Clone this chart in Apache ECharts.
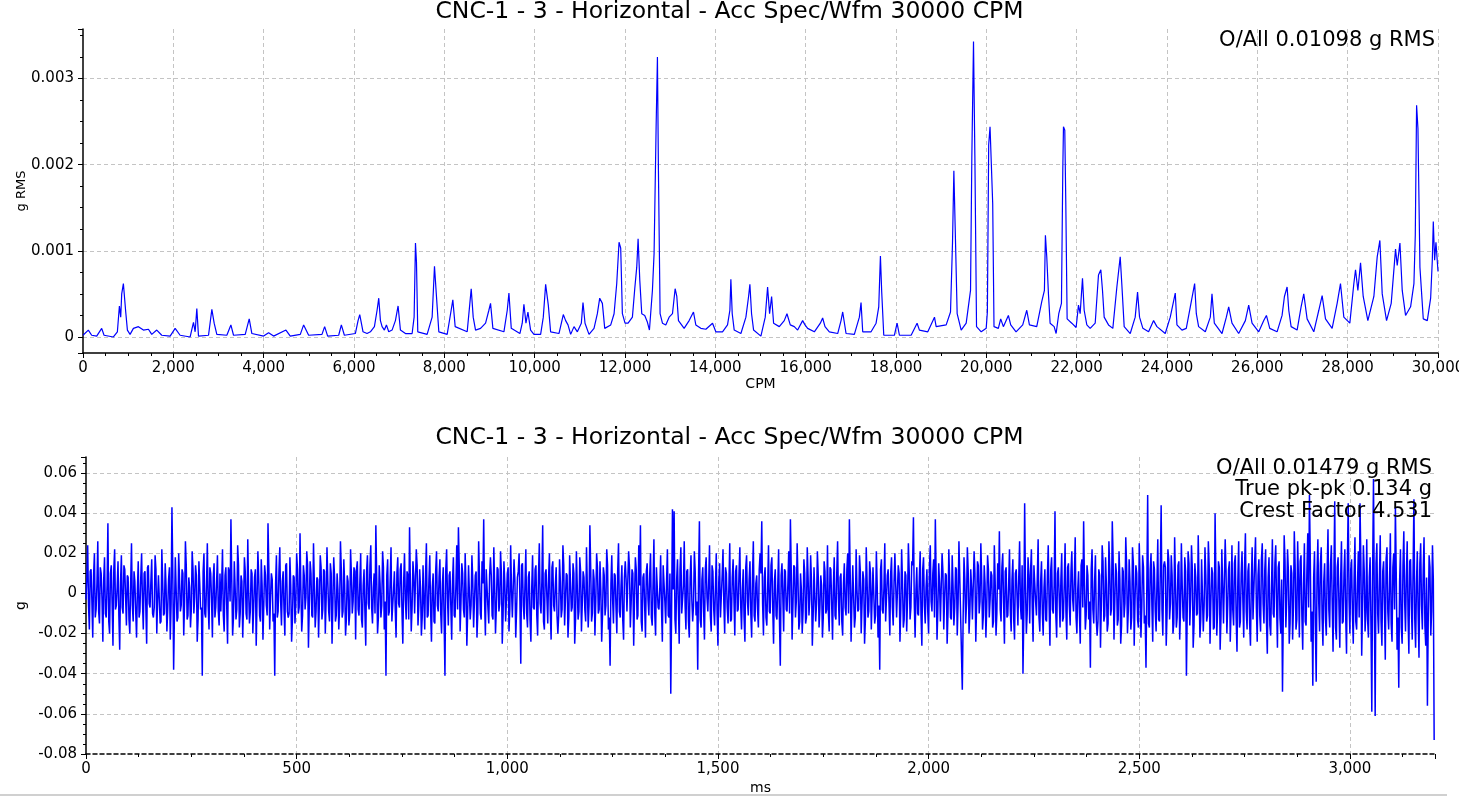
<!DOCTYPE html>
<html><head><meta charset="utf-8">
<script src="https://cdn.jsdelivr.net/npm/echarts@6/dist/echarts.min.js"></script>
<style>html,body{margin:0;padding:0;background:#fff;overflow:hidden}#c{width:1459px;height:798px}</style>
</head><body><div id="c"></div>
<script>
const chartTitle = 'CNC-1 - 3 - Horizontal - Acc Spec/Wfm 30000 CPM';
const specNote = 'O/All 0.01098 g RMS';
const waveNotes = ['O/All 0.01479 g RMS', 'True pk-pk 0.134 g', 'Crest Factor 4.531'];

// Spectrum (CPM, g RMS)
const specCpm = [0,10,118,192,303,414,466,673,761,806,835,857,894,916,946,983,1042,1116,1227,1338,1449,1522,1633,1744,1929,2040,2150,2372,2446,2483,2520,2557,2779,2853,2904,2963,3185,3274,3333,3592,3680,3739,3998,4109,4220,4493,4589,4811,4885,4996,5291,5350,5417,5661,5720,5787,6030,6090,6127,6200,6289,6363,6452,6511,6548,6585,6622,6673,6718,6769,6843,6917,6976,7028,7139,7287,7331,7361,7383,7412,7619,7730,7782,7826,7878,8063,8151,8188,8240,8506,8565,8595,8639,8691,8802,8913,8986,9023,9075,9319,9393,9430,9482,9673,9725,9762,9807,9851,9910,9984,10132,10191,10243,10280,10302,10353,10538,10634,10686,10738,10797,10871,10945,11033,11070,11115,11203,11314,11388,11440,11499,11551,11684,11758,11817,11868,11905,11942,12001,12068,12164,12216,12260,12290,12327,12371,12437,12497,12541,12607,12644,12689,12718,12740,12777,12829,12903,12977,13051,13110,13147,13184,13309,13420,13516,13568,13679,13790,13938,14011,14159,14270,14322,14344,14374,14418,14566,14677,14736,14765,14802,14847,15009,15105,15157,15201,15246,15290,15416,15526,15586,15659,15748,15822,15933,15985,16044,16192,16325,16376,16428,16524,16709,16783,16820,16857,16894,17078,17189,17226,17263,17448,17559,17618,17655,17684,17729,17965,18024,18076,18335,18467,18519,18704,18852,18889,19111,19207,19251,19281,19310,19354,19443,19554,19650,19679,19716,19746,19783,19887,19997,20023,20052,20082,20119,20141,20170,20266,20318,20377,20488,20540,20658,20806,20895,20954,21116,21227,21286,21308,21338,21375,21412,21501,21545,21604,21663,21693,21708,21737,21759,21789,21892,21988,22040,22077,22129,22166,22225,22299,22410,22483,22535,22572,22609,22705,22801,22890,22964,23001,23052,23186,23296,23348,23392,23466,23592,23703,23777,23961,24072,24183,24220,24331,24427,24516,24612,24649,24700,24848,24959,24996,25048,25218,25314,25366,25439,25587,25735,25809,25883,26031,26142,26201,26275,26437,26548,26600,26659,26696,26748,26881,26969,27028,27102,27250,27361,27435,27509,27656,27767,27841,27915,28048,28137,28174,28226,28285,28344,28447,28580,28654,28713,28765,28861,28964,29060,29097,29157,29208,29282,29393,29467,29497,29526,29556,29600,29674,29763,29837,29874,29896,29925,29955,30000];
const specG = [0.00002,0.00001,0.00008,0.00002,0.00001,0.0001,0.00002,0,0.00006,0.00036,0.00023,0.0005,0.00062,0.00062,0.00029,0.00008,0.00003,0.0001,0.00012,0.00008,0.00009,0.00003,0.00008,0.00002,0.00001,0.0001,0.00002,0,0.00017,0.00006,0.00033,0.00001,0.00002,0.00032,0.00016,0.00003,0.00002,0.00014,0.00002,0.00003,0.00021,0.00004,0.00001,0.00005,0.00001,0.00008,0.00001,0.00003,0.00014,0.00002,0.00003,0.00012,0.00001,0.00002,0.00014,0.00002,0.00004,0.00019,0.00026,0.00006,0.00004,0.00006,0.00012,0.00031,0.00045,0.00019,0.00012,0.00008,0.00014,0.00006,0.00008,0.00019,0.00036,0.00008,0.00004,0.00004,0.00023,0.00109,0.00087,0.00006,0.00003,0.00023,0.00082,0.00047,0.00006,0.00003,0.00031,0.00043,0.00012,0.00006,0.00039,0.00056,0.00023,0.00008,0.0001,0.00016,0.00031,0.00039,0.0001,0.00006,0.00031,0.00051,0.0001,0.00004,0.00016,0.00038,0.00016,0.00029,0.00008,0.00003,0.00003,0.00023,0.00061,0.00061,0.00037,0.00006,0.00004,0.00026,0.00019,0.00014,0.00003,0.00012,0.00006,0.00016,0.0004,0.00016,0.00003,0.0001,0.00027,0.00045,0.00039,0.0001,0.00014,0.00027,0.00062,0.0011,0.00103,0.00027,0.00016,0.00016,0.00023,0.00056,0.00081,0.00114,0.00066,0.00027,0.00025,0.00017,0.00008,0.00054,0.00097,0.00244,0.00325,0.00194,0.00027,0.00016,0.00014,0.00023,0.00027,0.00056,0.00047,0.00019,0.0001,0.00019,0.00029,0.00014,0.0001,0.00009,0.00016,0.00006,0.00006,0.00014,0.00031,0.00067,0.00027,0.00008,0.00004,0.00023,0.00047,0.00061,0.00027,0.00008,0.00001,0.00023,0.00058,0.00027,0.00047,0.00016,0.00012,0.00019,0.00027,0.00014,0.00012,0.00008,0.00019,0.00014,0.0001,0.00006,0.00016,0.00022,0.00012,0.00006,0.00004,0.00019,0.00029,0.00029,0.00004,0.00003,0.00023,0.0004,0.00006,0.00006,0.00016,0.00035,0.00094,0.00052,0.00002,0.00002,0.00016,0.00002,0.00002,0.00016,0.00008,0.00006,0.00023,0.00012,0.00014,0.00029,0.00109,0.00193,0.00128,0.00027,0.00008,0.00016,0.00054,0.00209,0.00343,0.00211,0.00012,0.00006,0.0001,0.00029,0.00223,0.00244,0.00244,0.00155,0.00012,0.0001,0.00021,0.00012,0.00025,0.00014,0.00006,0.00014,0.00031,0.00014,0.00012,0.00041,0.00054,0.00118,0.00093,0.0005,0.00016,0.00012,0.00004,0.00027,0.00039,0.00194,0.00244,0.0024,0.00157,0.00021,0.00016,0.00011,0.00037,0.00027,0.00068,0.00031,0.00014,0.0001,0.00016,0.00072,0.00078,0.00054,0.00023,0.00014,0.0001,0.00058,0.00093,0.0006,0.00012,0.00004,0.00023,0.00052,0.00023,0.0001,0.00006,0.00019,0.00012,0.00004,0.00023,0.00051,0.00014,0.00008,0.0001,0.00035,0.00062,0.00027,0.00012,0.00006,0.00023,0.0005,0.00016,0.00004,0.00023,0.00035,0.00016,0.00004,0.00019,0.00037,0.00016,0.00006,0.00019,0.00025,0.0001,0.00006,0.00025,0.00047,0.00058,0.00031,0.00012,0.00008,0.00035,0.0005,0.00021,0.00006,0.00031,0.00048,0.00021,0.0001,0.00039,0.00062,0.00023,0.00016,0.00062,0.00078,0.00054,0.00086,0.00047,0.00019,0.00047,0.00093,0.00112,0.0005,0.00019,0.00039,0.00102,0.00083,0.00109,0.00054,0.00025,0.00035,0.00062,0.00118,0.00269,0.00242,0.00081,0.00021,0.00019,0.00045,0.00089,0.00134,0.00089,0.0011,0.00076];

// Waveform, values in milli-g.
// waveMg: samples at 0, 4, 8 ... 3200 ms; waveMidMg: samples at 2, 6, 10 ... 3198 ms
const waveStepMs = 4;
const waveMg = [
-3,24,-18,12,-22,20,-8,26,-15,10,-24,18,-12,35,-20,14,-26,22,-6,16,-28,19,-10,12,-16,8,-20,25,-14,6,-22,16,-9,20,-18,11,-25,14,-7,17,
-12,19,-20,9,-15,22,-11,15,-19,7,-23,43,-38,18,-14,20,-9,12,-21,26,-13,8,-17,21,-10,14,-24,16,-8,-41,20,-12,25,-18,10,-22,15,-7,19,-16,
-9,22,-19,13,-25,11,37,-21,16,-13,24,-17,9,-22,18,-10,27,-15,12,-20,8,-26,21,-11,17,-23,14,-6,35,-18,10,-14,-41,19,-9,23,-16,11,-21,15,
-12,18,-24,9,-15,20,-10,30,-19,14,-8,21,-27,16,-11,25,-17,8,-22,19,-13,12,-20,23,-9,15,-25,18,-14,10,-18,26,-12,17,-21,9,-16,22,-10,13,
-23,16,-11,20,-17,12,-26,19,-8,24,-15,10,34,-20,14,-12,21,-18,-41,17,-9,23,-14,11,-22,18,-7,15,-25,20,-13,9,33,-19,16,-10,22,-16,12,-21,
14,-18,25,-11,19,-24,10,-15,21,-9,17,-20,13,-41,22,-16,11,-23,18,-12,24,33,-19,15,-8,20,-26,14,-13,19,-17,9,-22,26,-10,16,37,-21,12,-15,
18,-11,23,-20,13,-9,21,-25,16,-14,10,-19,24,-12,17,-22,8,20,-35,15,-13,22,-17,11,-24,19,-8,14,-21,25,-10,34,-18,12,-15,20,-23,16,-9,13,
-20,17,-12,24,-16,10,-22,19,-9,15,-25,21,-13,18,-19,11,-8,23,-17,34,-14,12,-21,20,-10,16,-24,13,-11,22,-18,-36,19,-15,9,-20,25,-12,14,-23,
16,-9,21,-17,12,-26,18,-13,24,34,-19,10,-22,15,-11,20,-16,27,-21,13,-8,19,-24,14,-15,22,-12,-50,42,41,-20,17,-25,23,-10,26,-18,12,-22,19,
-14,21,-11,-38,36,-17,13,-23,18,-9,24,-19,11,-16,20,-26,15,-12,22,-20,10,-15,25,-13,17,-21,14,-8,23,-18,12,-24,19,-11,16,-22,26,-14,9,-17,
20,36,-21,13,-16,24,-10,18,-25,12,-13,22,-36,15,-19,11,-9,21,37,-23,14,-12,25,-18,10,-20,17,-15,23,-11,19,-26,13,-14,21,-17,9,-22,16,-10,
24,-19,12,-23,18,-13,26,-16,10,-21,15,-11,20,37,-24,14,-17,22,-9,19,-20,11,-25,23,-12,16,-18,13,-15,21,-22,-38,17,-10,25,-14,12,-21,18,-16,
20,-12,14,-24,22,-17,11,-19,25,-13,16,38,-22,13,-11,21,-26,18,-15,12,-20,24,-9,17,37,-23,15,-14,20,-18,10,-25,22,-12,19,-16,13,-21,26,-11,
-48,18,-15,23,-20,12,-13,21,-24,16,-10,25,-18,14,-22,19,-12,11,-17,24,-21,15,31,-14,20,-25,13,-11,22,-19,17,-23,12,-16,26,-13,-40,45,-20,18,
-15,22,-24,14,-11,27,-19,16,-21,12,-14,24,-26,18,-10,41,-22,13,-17,20,-12,25,-23,15,-16,21,-9,28,-20,11,-25,17,36,-18,14,-13,-37,22,-15,19,
-21,12,-27,24,-14,18,-19,26,-11,36,-23,15,-16,21,-25,13,-12,28,-20,17,-18,23,-26,14,-13,25,-22,19,-15,-37,49,-17,20,-24,12,-19,27,-14,44,-21,
16,-26,22,-13,19,-20,28,-17,14,-23,25,-12,18,-41,21,-16,24,-27,15,-11,29,-22,17,-19,23,-14,26,-25,13,-18,40,-21,16,-28,22,-15,27,-20,12,-24,
24,-16,19,-29,26,-14,21,-22,30,-18,15,-26,23,-13,28,-24,17,-19,25,-15,22,-30,18,-21,27,-12,24,-27,16,-20,-49,29,-17,22,-25,14,-23,31,-18,26,
-22,19,-28,25,-16,30,49,-24,-46,21,-44,27,-19,23,-26,15,-21,32,-17,24,-29,46,-23,18,-27,26,-14,22,-30,45,-20,17,-25,28,-18,21,45,-31,24,-19,
27,-22,18,-59,57,-61,25,-20,29,-26,16,-33,23,-18,30,-24,20,43,-28,-47,22,-25,31,-19,26,-30,17,-23,47,-27,21,-32,25,-18,28,-26,-56,19,-21,24,
-73];
const waveMidMg = [
8,-6,11,-4,9,-12,5,-9,13,-3,7,-10,4,-14,10,-5,12,-8,3,-11,6,-7,14,-2,9,-13,5,-6,11,-9,2,-12,8,-4,10,-7,13,-5,6,-10,
-7,12,-3,9,-14,6,-10,4,-8,13,-5,11,-9,2,-12,7,-6,10,-4,14,-11,3,-8,12,-2,9,-13,5,-7,11,-10,4,-6,13,-3,8,-12,6,-9,10,
5,-11,9,-6,13,-4,7,-12,3,-8,14,-10,6,-5,11,-13,2,-9,10,-7,12,-3,8,-14,4,-6,9,-11,13,-2,7,-10,5,-12,11,-4,6,-8,14,-9,
-10,4,-13,8,-5,12,-7,3,-11,9,-2,14,-6,10,-12,5,-9,7,-4,13,-8,11,-3,6,-14,10,-5,8,-11,2,-7,12,-9,4,-13,6,-10,9,-4,11,
12,-8,6,-13,4,-9,11,-5,14,-7,3,-10,8,-12,5,-6,13,-4,9,-11,7,-14,2,-8,10,-5,12,-9,6,-3,11,-13,4,-7,9,-10,14,-6,3,-12,
-4,10,-12,7,-9,3,-14,11,-6,8,-10,5,-13,12,-2,9,-7,6,-11,4,-8,13,-5,10,-12,3,-9,14,-6,7,-4,11,-10,8,-13,5,-3,12,-7,9,
9,-13,4,-7,12,-5,10,-11,6,-3,13,-8,2,-12,7,-9,11,-4,14,-6,5,-10,8,-13,3,-7,12,-11,9,-5,6,-14,10,-2,8,-9,13,-6,4,-11,
-11,6,-8,14,-3,9,-12,5,-7,10,-13,4,-9,11,-5,8,-14,3,-6,12,-10,7,-4,13,-8,2,-11,9,-6,14,-12,5,-3,10,-7,11,-9,4,-13,8,
7,-9,13,-5,10,-2,12,-11,4,-14,8,-6,11,-3,9,-12,5,-10,13,-7,3,-8,14,-4,6,-11,10,-9,2,-13,7,-5,12,-10,4,-6,11,-14,8,-3,
-6,11,-4,10,-13,7,-9,12,-2,5,-11,14,-8,3,-10,6,-12,9,-5,13,-7,4,-14,8,-3,11,-9,10,-6,2,-12,13,-4,7,-10,9,-11,5,-8,12,
10,-5,8,-12,3,-9,14,-7,6,-11,4,-13,9,-2,12,-8,5,-10,11,-6,13,-4,7,-14,2,-9,10,-12,8,-3,6,-11,13,-5,9,-7,4,-12,11,-8,
-9,13,-6,4,-11,10,-3,8,-14,5,-7,12,-10,9,-4,14,-12,2,-8,11,-5,7,-13,6,-9,10,-2,13,-11,4,-6,12,-8,3,-14,9,-5,10,-7,6,
4,-12,10,-8,6,-13,9,-3,11,-7,14,-5,2,-10,8,-11,12,-6,3,-9,13,-4,10,-12,7,-8,5,-14,11,-2,9,-10,6,-13,4,-7,12,-5,8,-11,
-12,7,-5,11,-9,3,-13,10,-6,14,-4,8,-11,5,-7,12,-3,9,-14,6,-10,2,-8,13,-5,11,-12,4,-9,7,-13,10,-2,8,-6,14,-11,3,-10,9,
11,-7,14,-4,8,-12,6,-10,3,-13,9,-5,12,-8,4,-11,10,-2,7,-14,5,-9,13,-6,11,-3,8,-12,2,-10,14,-7,5,-11,9,-4,12,-8,6,-13,
-14,9,-6,16,-11,5,-15,12,-8,17,-4,10,-13,7,-16,11,-5,14,-9,6,-12,15,-3,10,-17,8,-7,13,-11,4,-15,12,-6,16,-9,5,-13,11,-8,14,
13,-10,17,-5,9,-15,6,-12,16,-8,4,-14,11,-7,15,-3,12,-16,8,-10,5,-13,17,-6,9,-11,14,-4,10,-17,7,-9,13,-12,3,-15,11,-6,16,-8,
-8,15,-12,6,-17,10,-4,14,-9,11,-15,5,-13,16,-7,9,-11,17,-5,12,-14,8,-16,4,-10,15,-6,13,-12,7,-9,16,-3,11,-15,10,-7,14,-13,6,
16,-11,5,-14,12,-7,17,-9,8,-16,10,-4,15,-12,6,-13,11,-8,14,-5,9,-17,13,-6,7,-15,10,-11,16,-3,12,-10,8,-14,5,-12,17,-7,11,-9,
-13,8,-16,12,-5,15,-10,7,-14,11,-6,17,-9,4,-15,13,-8,10,-12,6,-17,14,-4,9,-11,16,-7,12,-13,5,-10,15,-6,11,-16,8,-12,13,-9,7];

const FONT = 'DejaVu Sans';
const BLUE = '#0000ff';
const GRID_LINE = {show: true, showMinLine: false, showMaxLine: false, lineStyle: {color: '#c4c4c4', type: [4, 3], width: 1}};
const txt = (size) => ({fontFamily: FONT, fontSize: size, color: '#000', fontWeight: 'normal'});
const fmtThousands = (v) => Math.round(v).toLocaleString('en-US');

const specData = specCpm.map((c, i) => [c, specG[i]]);
const waveData = [];
waveMg.forEach((v, i) => {
  waveData.push([i * waveStepMs, v / 1000]);
  if (i < waveMidMg.length) waveData.push([i * waveStepMs + waveStepMs / 2, waveMidMg[i] / 1000]);
});

const noteText = (text, top) => ({
  type: 'text', right: 0, top: top, silent: true, z: 10,
  style: {text: text, fill: '#000', font: '21px "DejaVu Sans"', align: 'right'}
});

const chart = echarts.init(document.getElementById('c'), null, {renderer: 'canvas'});
chart.setOption({
  animation: false,
  backgroundColor: '#fff',
  title: [
    {text: chartTitle, left: 'center', top: 0, padding: 0, textStyle: txt(23.5)},
    {text: chartTitle, left: 'center', top: 426, padding: 0, textStyle: txt(23.5)}
  ],
  grid: [
    {left: 83, right: 21, top: 29, bottom: 445, outerBoundsMode: 'none', containLabel: false},
    {left: 86, right: 24, top: 457, bottom: 44, outerBoundsMode: 'none', containLabel: false}
  ],
  xAxis: [
    {gridIndex: 0, type: 'value', min: 0, max: 30000, interval: 2000,
     name: 'CPM', nameLocation: 'middle', nameGap: 24, nameTextStyle: txt(14), nameMoveOverlap: false,
     axisLine: {onZero: false, lineStyle: {color: '#000', width: 1.5}},
     axisTick: {length: 5, lineStyle: {color: '#000'}},
     minorTick: {show: true, splitNumber: 4, length: 3, lineStyle: {color: '#000'}},
     axisLabel: Object.assign(txt(15), {margin: 8, formatter: fmtThousands, showMaxLabel: true}),
     splitLine: Object.assign({}, GRID_LINE, {showMaxLine: true})},
    {gridIndex: 1, type: 'value', min: 0, max: 3202, interval: 500,
     name: 'ms', nameLocation: 'middle', nameGap: 27, nameTextStyle: txt(14), nameMoveOverlap: false,
     axisLine: {onZero: false, lineStyle: {color: '#000', width: 1.5, type: [4, 3]}},
     axisTick: {length: 5, lineStyle: {color: '#000'}},
     minorTick: {show: true, splitNumber: 4, length: 3, lineStyle: {color: '#000'}},
     axisLabel: Object.assign(txt(15), {margin: 8, showMaxLabel: false,
       formatter: (v) => (v % 500 === 0 ? fmtThousands(v) : '')}),
     splitLine: GRID_LINE}
  ],
  yAxis: [
    {gridIndex: 0, type: 'value', min: -0.000186, max: 0.003574, splitNumber: 5,
     name: 'g RMS', nameLocation: 'middle', nameGap: 55, nameTextStyle: txt(13), nameMoveOverlap: false,
     axisLine: {show: true, lineStyle: {color: '#000', width: 1.5}},
     axisTick: {show: true, length: 5, lineStyle: {color: '#000'}},
     minorTick: {show: true, splitNumber: 4, length: 3, lineStyle: {color: '#000'}},
     axisLabel: Object.assign(txt(15), {margin: 9, showMinLabel: false, showMaxLabel: false,
       formatter: (v) => {const k = Math.round(v / 0.001); return Math.abs(v - k * 0.001) < 1e-9 ? (k === 0 ? '0' : (k * 0.001).toFixed(3)) : '';}}),
     splitLine: GRID_LINE},
    {gridIndex: 1, type: 'value', min: -0.08, max: 0.068, interval: 0.02,
     name: 'g', nameLocation: 'middle', nameGap: 58, nameTextStyle: txt(14), nameMoveOverlap: false,
     axisLine: {show: true, lineStyle: {color: '#000', width: 1.5}},
     axisTick: {show: true, length: 5, lineStyle: {color: '#000'}},
     minorTick: {show: true, splitNumber: 4, length: 3, lineStyle: {color: '#000'}},
     axisLabel: Object.assign(txt(15), {margin: 9, showMaxLabel: false,
       formatter: (v) => {const k = Math.round(v / 0.02); return Math.abs(v - k * 0.02) < 1e-9 ? (k === 0 ? '0' : (k * 0.02).toFixed(2)) : '';}}),
     splitLine: GRID_LINE}
  ],
  series: [
    {type: 'line', xAxisIndex: 0, yAxisIndex: 0, data: specData, showSymbol: false, symbol: 'none',
     lineStyle: {color: BLUE, width: 1.2}, clip: true, z: 3},
    {type: 'line', xAxisIndex: 1, yAxisIndex: 1, data: waveData, showSymbol: false, symbol: 'none',
     sampling: false, lineStyle: {color: BLUE, width: 1.5}, clip: true, z: 3}
  ],
  graphic: [
    {type: 'group', right: 24, top: 30, children: [noteText(specNote, 0)]},
    {type: 'group', right: 27, top: 458, children: [
      noteText(waveNotes[0], 0), noteText(waveNotes[1], 21.5), noteText(waveNotes[2], 43)]},
    {type: 'rect', left: 0, top: 794, shape: {width: 1447, height: 2}, style: {fill: '#d0d0d0'}, silent: true}
  ]
});
</script></body></html>
